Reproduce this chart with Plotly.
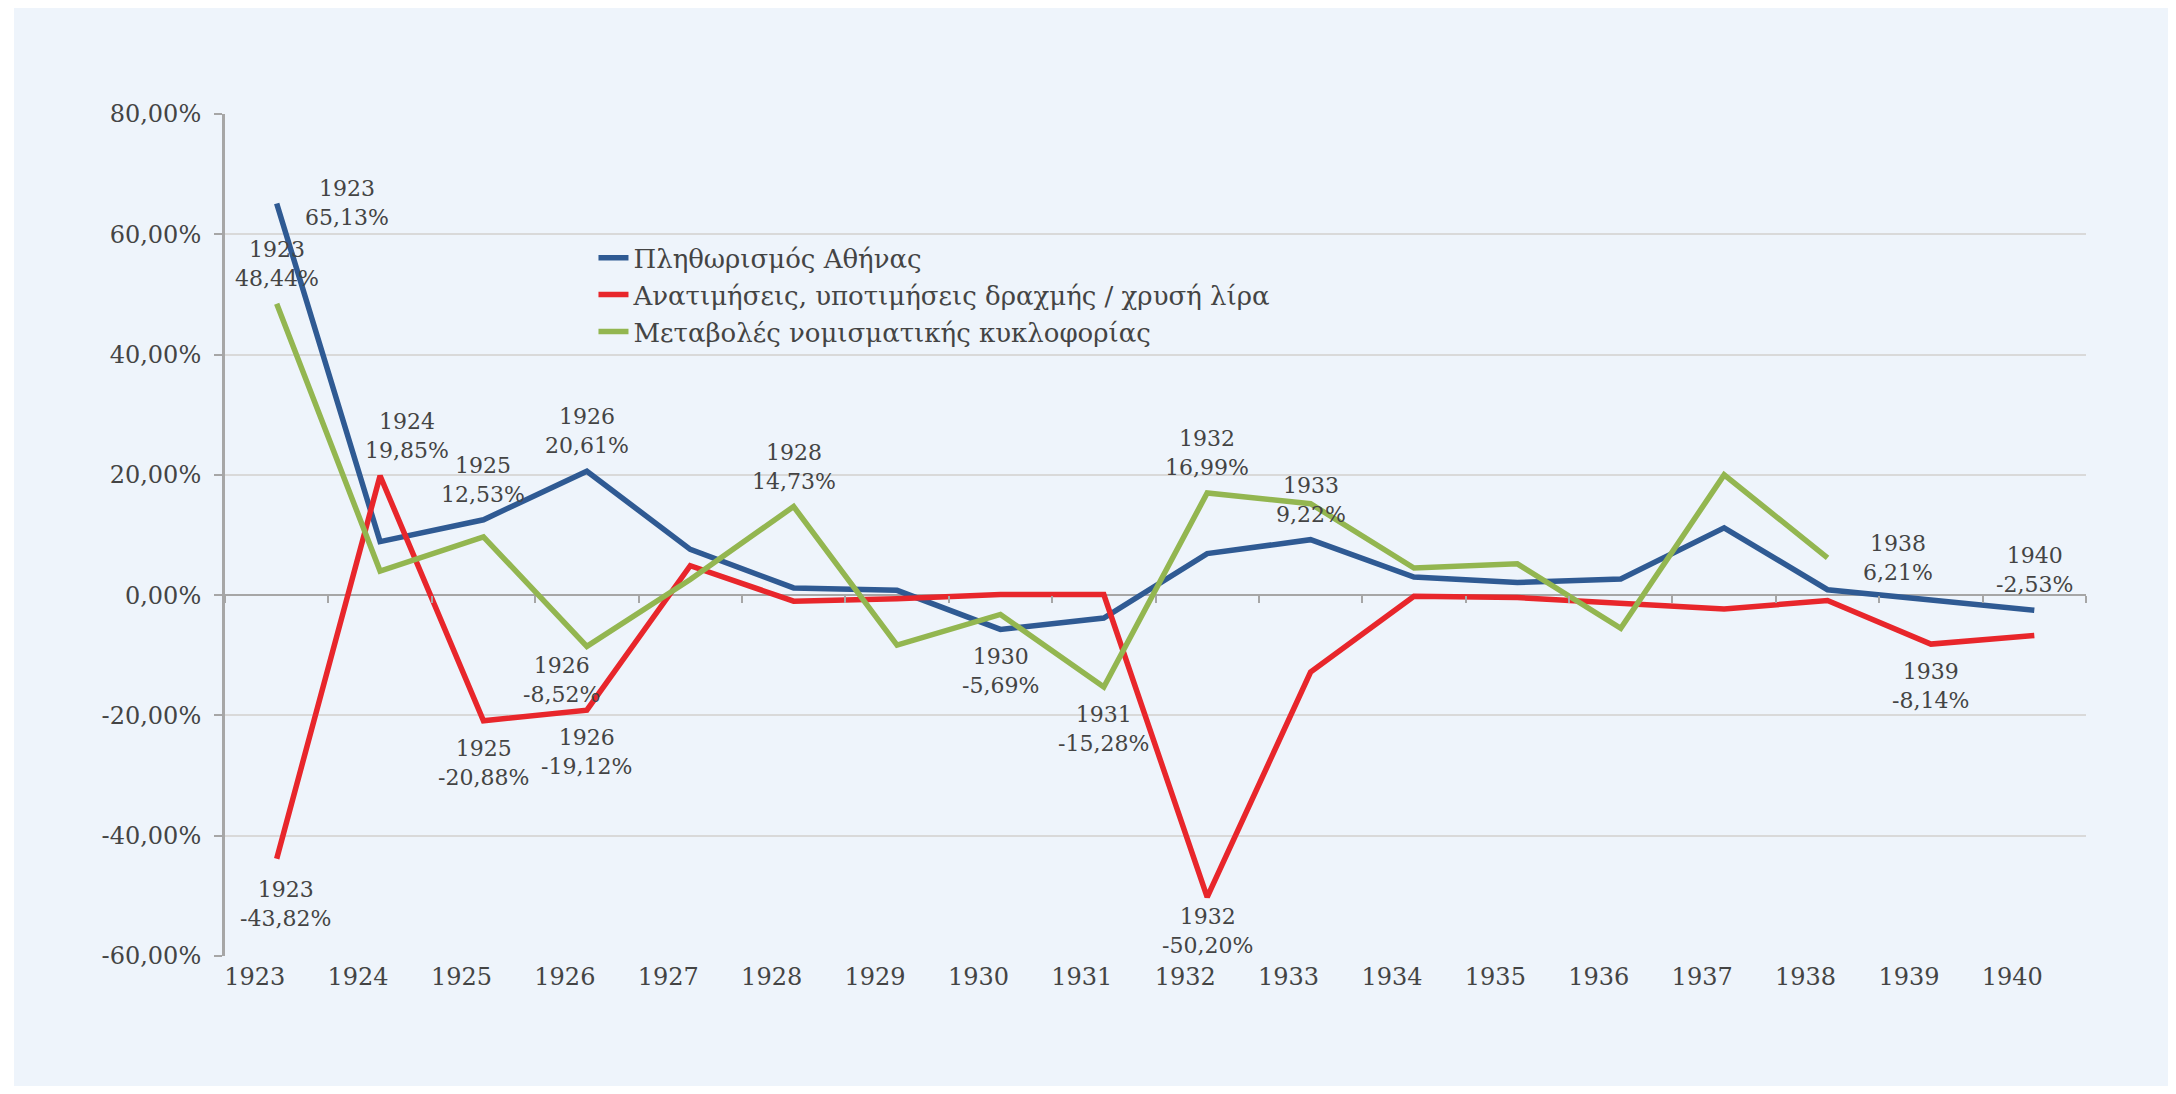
import plotly.graph_objects as go

years = [str(y) for y in range(1923, 1941)]

# Πληθωρισμός Αθήνας
inflation = [65.13, 8.9, 12.53, 20.61, 7.6, 1.2, 0.8, -5.69, -3.8, 6.9,
             9.22, 3.0, 2.1, 2.7, 11.2, 0.9, -0.8, -2.53]
# Ανατιμήσεις, υποτιμήσεις δραχμής / χρυσή λίρα
drachma = [-43.82, 19.85, -20.88, -19.12, 4.9, -1.0, -0.6, 0.1, 0.1, -50.20,
           -12.8, -0.2, -0.4, -1.3, -2.3, -0.9, -8.14, -6.7]
# Μεταβολές νομισματικής κυκλοφορίας (no value for 1939-1940)
money = [48.44, 4.0, 9.7, -8.52, 2.6, 14.73, -8.3, -3.2, -15.28, 16.99,
         15.2, 4.5, 5.2, -5.5, 20.0, 6.21, None, None]

y_ticks = [-60, -40, -20, 0, 20, 40, 60, 80]
y_tick_text = [f'{t:.2f}'.replace('.', ',') + '%' for t in y_ticks]

names = ['Πληθωρισμός Αθήνας',
         'Ανατιμήσεις, υποτιμήσεις δραχμής / χρυσή λίρα',
         'Μεταβολές νομισματικής κυκλοφορίας']
colors = ['#2F5A93', '#E8262B', '#93B650']
series = [inflation, drachma, money]

# which points carry a "year / value" label: (series index, year, placement)
labelled = [
    (0, '1923', 'right'), (2, '1923', 'above'), (1, '1923', 'below_r'),
    (1, '1924', 'above_r'), (0, '1925', 'above'), (0, '1926', 'above'),
    (2, '1926', 'below_l'), (1, '1925', 'below'), (1, '1926', 'below'),
    (2, '1928', 'above'), (0, '1930', 'below'), (2, '1931', 'below'),
    (2, '1932', 'above'), (0, '1933', 'above'), (1, '1932', 'below_s'),
    (2, '1938', 'right'), (1, '1939', 'below'), (0, '1940', 'above'),
]
shifts = {'right': (70, 0), 'above': (0, 40), 'above_r': (27, 40),
          'below': (0, -42), 'below_l': (-25, -34), 'below_r': (9, -45),
          'below_s': (0, -34)}

serif = 'DejaVu Serif'
text_col = '#444444'
axis_col = '#A6A6A6'
bg = '#EEF4FB'

fig = go.Figure()
for name, vals, col in zip(names, series, colors):
    fig.add_trace(go.Scatter(
        x=years, y=vals, name=name, mode='lines', legendgroup=name,
        line=dict(color=col, width=5.5), connectgaps=False,
    ))

# carrier for the category ticks drawn on the zero line
fig.add_trace(go.Scatter(
    x=years, y=[None] * len(years), xaxis='x2', mode='lines',
    showlegend=False, hoverinfo='skip',
))

for idx, yr, pos in labelled:
    i = years.index(yr)
    v = series[idx][i]
    dx, dy = shifts[pos]
    fig.add_annotation(
        x=i, y=v, xref='x', yref='y', showarrow=False,
        text=yr + '<br>' + f'{v:.2f}'.replace('.', ',') + '%',
        xshift=dx, yshift=dy,
        font=dict(family=serif, size=22, color=text_col),
    )

fig.update_layout(
    width=2160, height=1078,
    margin=dict(l=217, r=82, t=106, b=130),
    paper_bgcolor=bg,
    plot_bgcolor=bg,
    showlegend=True,
    legend=dict(
        x=0.198, y=0.857, xanchor='left', yanchor='top',
        bgcolor='rgba(0,0,0,0)', tracegroupgap=0,
        font=dict(family=serif, size=26, color=text_col),
    ),
    shapes=[
        # thin white strip along the left edge of the picture
        dict(type='rect', xref='paper', yref='paper', layer='below',
             x0=-0.2, x1=-0.1134, y0=-0.3, y1=1.3,
             fillcolor='white', line=dict(width=0)),
    ],
    xaxis=dict(
        type='category', range=[-0.5, 17.5],
        showgrid=False, showline=False, ticks='',
        ticklabelshift=-22, ticklabelstandoff=4,
        tickfont=dict(family=serif, size=24, color=text_col),
    ),
    xaxis2=dict(
        type='category', overlaying='x', anchor='free', position=60 / 140,
        range=[-0.5, 17.5], categoryorder='array', categoryarray=years,
        tickson='boundaries', ticks='outside', ticklen=7, tickwidth=2,
        tickcolor=axis_col, showticklabels=False, showgrid=False,
        showline=False, zeroline=False,
    ),
    yaxis=dict(
        range=[-60, 80], tickvals=y_ticks, ticktext=y_tick_text,
        showgrid=True, gridcolor='#D9D9D9', gridwidth=2,
        zeroline=True, zerolinecolor=axis_col, zerolinewidth=2,
        showline=True, linecolor=axis_col, linewidth=3,
        ticks='outside', ticklen=8, tickcolor=axis_col, tickwidth=2,
        ticklabelstandoff=8,
        tickfont=dict(family=serif, size=24, color=text_col),
    ),
)

fig.write_html('out.html')
